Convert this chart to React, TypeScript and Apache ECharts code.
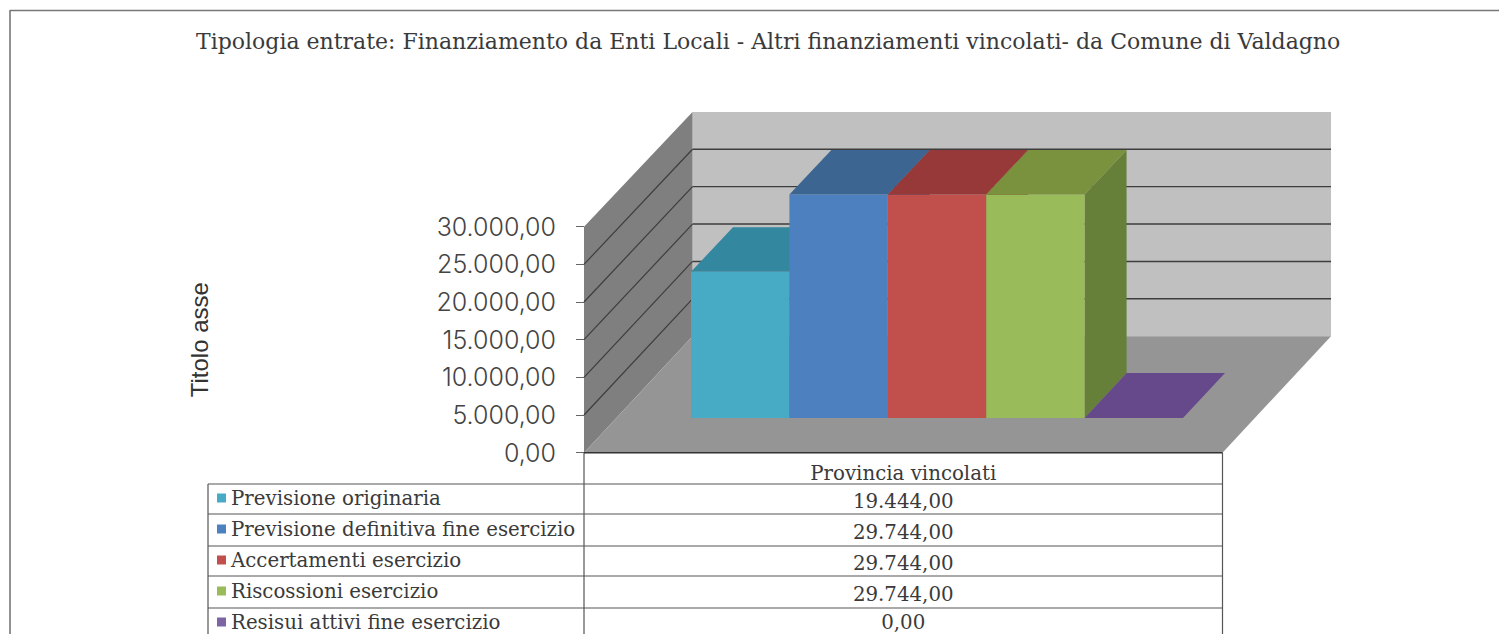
import React, { useEffect, useRef } from "react";
import * as echarts from "echarts";

const titleText = "Tipologia entrate: Finanziamento da Enti Locali - Altri finanziamenti vincolati- da Comune di Valdagno";
const axisTitle = "Titolo asse";
const categories = ["Provincia vincolati"];
const seriesNames = [
  "Previsione originaria",
  "Previsione definitiva fine esercizio",
  "Accertamenti esercizio",
  "Riscossioni esercizio",
  "Resisui attivi fine esercizio",
];
const seriesValues = [19444, 29744, 29744, 29744, 0];
const frontColors = ["#47abc6", "#4d80bf", "#c14f4b", "#9abb59", "#7d65a3"];
const topColors = ["#33879e", "#3c6592", "#963938", "#7a923e", "#66498a"];
const sideColors = ["#2f7a8f", "#345a85", "#853230", "#66803a", "#54407a"];
const tickValues = [0, 5000, 10000, 15000, 20000, 25000, 30000];

const fmt = (v: number) =>
  v.toLocaleString("de-DE", { minimumFractionDigits: 2, maximumFractionDigits: 2 });

const G = { left: 584, right: 1222.5, top: 226.7, bottom: 452.7 };
const DX = 108.5;
const DY = 116.5;
const SHRINK = 0.0075;
const BAR_NEAR = 0.298;
const BAR_FAR = 0.685;
const BAR_W = 98.4;
const BAR_START = 107;

const serifFont = "DejaVu Serif";
const textColor = "#3a3a3a";

function project(api: any, xOff: number, value: number, depth: number) {
  const p = api.coord([0, value]);
  const base = api.coord([0, 0])[1];
  const y = base - (base - p[1]) * (1 - SHRINK * depth);
  return [p[0] + xOff + depth * DX, y - depth * DY];
}

function renderWalls(_: any, api: any) {
  const half = api.size([1, 0])[0] / 2;
  const P = (x: number, v: number, d: number) => project(api, x, v, d);
  const maxV = tickValues[tickValues.length - 1];
  const children: any[] = [
    { type: "polygon", shape: { points: [P(-half, 0, 1), P(half, 0, 1), P(half, maxV, 1), P(-half, maxV, 1)] }, style: { fill: "#c0c0c0" } },
    { type: "polygon", shape: { points: [P(-half, 0, 0), P(-half, 0, 1), P(-half, maxV, 1), P(-half, maxV, 0)] }, style: { fill: "#7f7f7f" } },
    { type: "polygon", shape: { points: [P(-half, 0, 0), P(half, 0, 0), P(half, 0, 1), P(-half, 0, 1)] }, style: { fill: "#959595" } },
  ];
  tickValues.slice(1, -1).forEach((v) => {
    const a = P(-half, v, 0), b = P(-half, v, 1), c = P(half, v, 1);
    children.push({ type: "line", shape: { x1: a[0], y1: a[1], x2: b[0], y2: b[1] }, style: { stroke: "#3d3d3d", lineWidth: 1.2 } });
    children.push({ type: "line", shape: { x1: b[0], y1: b[1], x2: c[0], y2: c[1] }, style: { stroke: "#3d3d3d", lineWidth: 1.4 } });
  });
  const f0 = P(-half, 0, 0), f1 = P(half, 0, 0);
  children.push({ type: "line", shape: { x1: f0[0], y1: f0[1], x2: f1[0], y2: f1[1] }, style: { stroke: "#333", lineWidth: 1.4 } });
  return { type: "group", children };
}

function makeBar(i: number) {
  return (_: any, api: any) => {
    const half = api.size([1, 0])[0] / 2;
    const v = api.value(1);
    const x0 = -half + BAR_START + i * BAR_W - BAR_NEAR * DX;
    const x1 = x0 + BAR_W;
    const P = (x: number, val: number, d: number) => project(api, x, val, d);
    const children: any[] = [];
    if (v > 0) {
      children.push({ type: "polygon", shape: { points: [P(x1, 0, BAR_NEAR), P(x1, 0, BAR_FAR), P(x1, v, BAR_FAR), P(x1, v, BAR_NEAR)] }, style: { fill: sideColors[i] } });
      children.push({ type: "polygon", shape: { points: [P(x0, 0, BAR_NEAR), P(x1, 0, BAR_NEAR), P(x1, v, BAR_NEAR), P(x0, v, BAR_NEAR)] }, style: { fill: frontColors[i] } });
    }
    children.push({ type: "polygon", shape: { points: [P(x0, v, BAR_NEAR), P(x1, v, BAR_NEAR), P(x1, v, BAR_FAR), P(x0, v, BAR_FAR)] }, style: { fill: topColors[i] } });
    return { type: "group", children };
  };
}

export default function App() {
  const ref = useRef<HTMLDivElement>(null);
  useEffect(() => {
    const chart = echarts.init(ref.current!, null, { renderer: "svg" });
    const rowLines = [484, 514, 546, 576, 608];
    const rowText = [501, 532, 563, 594, 622];
    const stroke = { stroke: "#555", lineWidth: 1.2 };
    const line = (x1: number, y1: number, x2: number, y2: number, style: any = stroke) => ({
      type: "line", shape: { x1, y1, x2, y2 }, style,
    });
    const border = { stroke: "#777", lineWidth: 1.6 };
    chart.setOption({
      animation: false,
      backgroundColor: "#fff",
      title: {
        text: titleText,
        left: 191,
        top: 25,
        textStyle: { fontFamily: serifFont, fontSize: 22, fontWeight: "normal", color: textColor },
      },
      legend: {
        orient: "vertical",
        left: 217,
        top: 488,
        height: 200,
        padding: 0,
        itemWidth: 9,
        itemHeight: 9,
        itemGap: 11,
        icon: "rect",
        selectedMode: false,
        data: seriesNames,
        textStyle: { fontFamily: serifFont, fontSize: 19.8, color: textColor },
      },
      grid: { left: G.left, top: G.top, width: G.right - G.left, height: G.bottom - G.top },
      xAxis: {
        type: "category",
        data: categories,
        axisTick: { show: false },
        axisLine: { show: false },
        axisLabel: { margin: 11, fontFamily: serifFont, fontSize: 19.8, color: textColor },
      },
      yAxis: {
        type: "value",
        min: 0,
        max: 30000,
        interval: 5000,
        name: axisTitle,
        nameLocation: "middle",
        nameRotate: 90,
        nameGap: 373,
        nameTextStyle: { fontFamily: "Liberation Sans", fontSize: 24, color: "#333" },
        splitLine: { show: false },
        axisLine: { show: false },
        axisTick: { show: true, length: 8, lineStyle: { color: "#666" } },
        axisLabel: { margin: 28, fontFamily: "Inter", fontWeight: 300, fontSize: 25, color: "#444", formatter: (v: number) => fmt(v) },
      },
      series: [
        { type: "custom", name: "walls", silent: true, renderItem: renderWalls, data: [[0, 0]], encode: { x: 0, y: 1 }, z: 1 },
        ...seriesNames.map((name, i) => ({
          type: "custom",
          name,
          renderItem: makeBar(i),
          itemStyle: { color: frontColors[i] },
          data: [[0, seriesValues[i]]],
          encode: { x: 0, y: 1 },
          z: 2,
        })),
      ],
      graphic: [
        line(10, 10.5, 1499, 10.5, border),
        line(10, 10, 10, 634, border),
        line(G.left, G.bottom, G.left, 634),
        line(G.right, G.bottom, G.right, 634),
        line(208, 484, 208, 634),
        ...rowLines.map((y) => line(208, y, G.right, y)),
        ...seriesValues.map((v, i) => ({
          type: "text",
          x: (G.left + G.right) / 2,
          y: rowText[i],
          style: { text: fmt(v), font: `19.8px "${serifFont}"`, fill: textColor, align: "center", verticalAlign: "middle" },
        })),
      ],
    });
    return () => chart.dispose();
  }, []);
  return <div ref={ref} style={{ position: "fixed", left: 0, top: 0, width: 1499, height: 634 }} />;
}
